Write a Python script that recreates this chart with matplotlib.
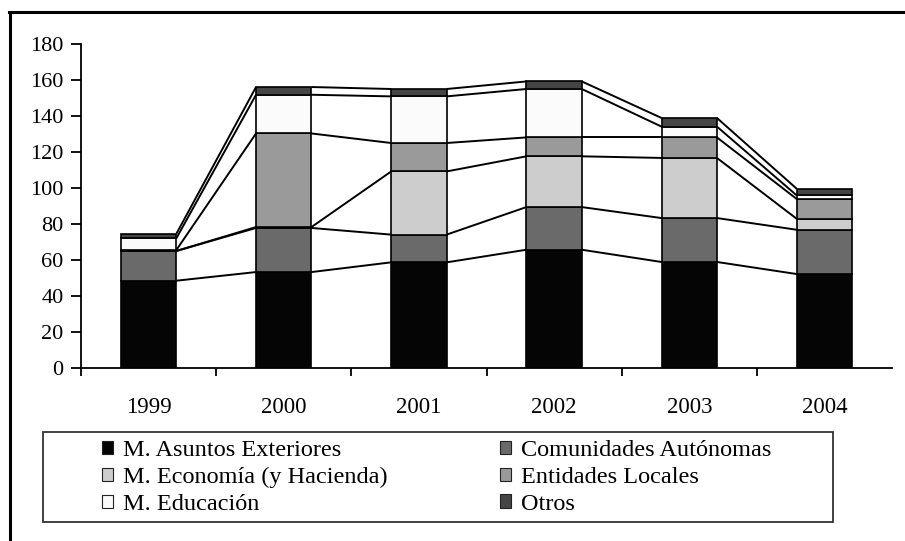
import matplotlib
matplotlib.use("Agg")
import matplotlib.pyplot as plt
import numpy as np
from matplotlib.patches import Patch, Rectangle
from matplotlib.lines import Line2D

years = ["1999", "2000", "2001", "2002", "2003", "2004"]
series_names = ["M. Asuntos Exteriores", "Comunidades Autónomas", "M. Economía (y Hacienda)",
                "Entidades Locales", "M. Educación", "Otros"]
asuntos_exteriores = [48.5, 53.3, 58.7, 65.7, 58.9, 52.2]
comunidades = [16.5, 24.5, 15.4, 23.7, 24.4, 24.6]
economia = [0.0, 0.5, 35.1, 28.2, 33.4, 6.1]
entidades = [0.5, 52.0, 15.8, 10.5, 11.4, 11.0]
educacion = [6.5, 21.5, 25.9, 26.9, 6.0, 2.0]
otros = [2.5, 4.3, 4.1, 4.2, 4.8, 3.7]
y_ticks = [0, 20, 40, 60, 80, 100, 120, 140, 160, 180]

series = [asuntos_exteriores, comunidades, economia, entidades, educacion, otros]
colors = ["#050505", "#6a6a6a", "#cdcdcd", "#9a9a9a", "#fbfbfb", "#454545"]

plt.rcParams["font.family"] = ["Liberation Serif", "DejaVu Serif"]

fig = plt.figure(figsize=(9.05, 5.41), dpi=100)
ax = fig.add_axes([81/905, 1-368/541, (892-81)/905, 324/541])

x = np.arange(len(years)) + 0.5
width = 0.41
bottom = np.zeros(len(years))
tops = []
for vals, col, name in zip(series, colors, series_names):
    v = np.array(vals)
    ax.bar(x, v, width, bottom=bottom, color=col, edgecolor="black", linewidth=1.2, zorder=3)
    bottom = bottom + v
    tops.append(bottom.copy())

# series lines connecting bar edges
for t in tops:
    for i in range(len(years) - 1):
        ax.plot([x[i] + width/2, x[i+1] - width/2], [t[i], t[i+1]],
                color="black", linewidth=1.4, zorder=2, solid_capstyle="butt")

ax.set_xlim(0, len(years))
ax.set_ylim(0, 180)
ax.set_yticks(y_ticks)
ax.set_xticks(x)
ax.set_xticklabels(years)
ax.set_xticks(np.arange(len(years)), minor=True)
ax.tick_params(axis="x", which="major", length=0, pad=21, labelsize=16.5)
ax.tick_params(axis="x", which="minor", length=6, width=1.3, direction="out")
ax.tick_params(axis="y", length=7.5, width=1.3, direction="out", labelsize=16, pad=5)
for s in ["top", "right"]:
    ax.spines[s].set_visible(False)
for s in ["left", "bottom"]:
    ax.spines[s].set_linewidth(1.3)

# legend frame
fig.patches.append(Rectangle((43/905, 1-522/541), (833-43)/905, 90/541,
                             transform=fig.transFigure, fill=False,
                             edgecolor="#333333", linewidth=1.3))
handles = [Patch(facecolor=c, edgecolor="#222222", linewidth=0.8) for c in colors]
left_idx = [0, 2, 4]
right_idx = [1, 3, 5]
common = dict(frameon=False, fontsize=17.5, handlelength=0.46, handleheight=0.46,
              handletextpad=0.4, labelspacing=0.24, borderpad=0, borderaxespad=0,
              loc="upper left")
leg1 = fig.legend([handles[i] for i in left_idx], [series_names[i] for i in left_idx],
                  bbox_to_anchor=(102/905, 1-440/541), **common)
leg2 = fig.legend([handles[i] for i in right_idx], [series_names[i] for i in right_idx],
                  bbox_to_anchor=(500/905, 1-440/541), **common)

# outer border
fig.add_artist(Line2D([9/905, 1.0], [1-12/541, 1-12/541], transform=fig.transFigure,
                      color="black", linewidth=2.2))
fig.add_artist(Line2D([9.7/905, 9.7/905], [0, 1-12/541], transform=fig.transFigure,
                      color="black", linewidth=2.2))

fig.savefig("out.png", dpi=100)
